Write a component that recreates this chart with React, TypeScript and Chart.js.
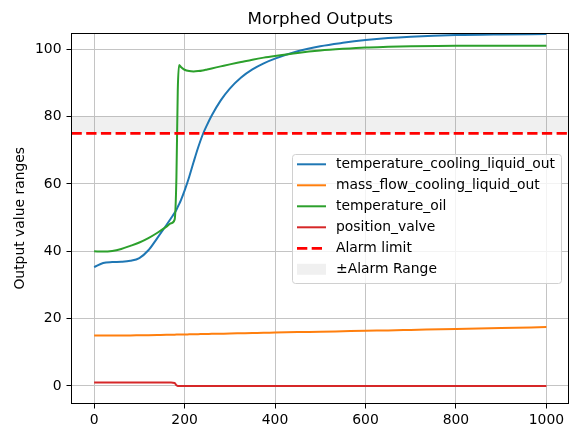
import React, { useEffect, useRef } from "react";
import { Chart, registerables } from "chart.js";

Chart.register(...registerables);

// ---- data ----
const TIME = [
  0, 20, 40, 60, 80, 100, 120, 140, 160, 170, 178, 182, 185, 188, 192, 200, 210, 220, 230, 240,
  250, 260, 280, 300, 325, 350, 375, 400, 450, 500, 550, 600, 650, 700, 800, 900, 1000,
];

const TEMP_COOLING_LIQUID_OUT = [
  35.3, 36.5, 36.8, 36.9, 37.2, 38.0, 40.3, 44.0, 47.8, 49.8, 51.4, 52.3, 53.2, 54.0, 55.2, 58.0, 62.0, 66.5, 70.8, 74.6,
  77.6, 80.3, 84.8, 88.3, 91.6, 94.0, 95.8, 97.2, 99.4, 100.9, 101.9, 102.7, 103.3, 103.7, 104.2, 104.4, 104.5,
];

const MASS_FLOW_COOLING_LIQUID_OUT = [
  15.0, 15.0, 15.0, 15.0, 15.0, 15.05, 15.1, 15.15, 15.2, 15.22, 15.25, 15.26, 15.27, 15.28, 15.29, 15.3, 15.33, 15.36, 15.39, 15.42,
  15.45, 15.48, 15.53, 15.58, 15.65, 15.72, 15.8, 15.85, 16.0, 16.1, 16.25, 16.4, 16.5, 16.65, 16.95, 17.2, 17.5,
];

const TEMPERATURE_OIL = [
  40.0, 39.9, 40.1, 40.7, 41.6, 42.6, 43.9, 45.5, 47.3, 48.3, 49.4, 62.0, 88.0, 95.3, 94.7, 93.9, 93.5, 93.4, 93.5, 93.7,
  94.0, 94.3, 94.9, 95.5, 96.2, 96.9, 97.5, 98.0, 98.9, 99.6, 100.1, 100.5, 100.7, 100.85, 101.0, 101.0, 101.0,
];

const POSITION_VALVE = [
  1.0, 1.0, 1.0, 1.0, 1.0, 1.0, 1.0, 1.0, 1.0, 1.0, 0.9, 0.2, 0.02, 0, 0, 0, 0, 0, 0, 0,
  0, 0, 0, 0, 0, 0, 0, 0, 0, 0, 0, 0, 0, 0, 0, 0, 0,
];

const SERIES_LABELS = [
  "temperature_cooling_liquid_out",
  "mass_flow_cooling_liquid_out",
  "temperature_oil",
  "position_valve",
];
const ALARM_LABEL = "Alarm limit";
const ALARM_RANGE_LABEL = "±Alarm Range";
const ALARM_LIMIT = 75;
const ALARM_RANGE_LOW = 75;
const ALARM_RANGE_HIGH = 80;

const X_LIMITS = [-50, 1050];
const Y_LIMITS = [-5.2, 104.8];
const X_TICKS = [0, 200, 400, 600, 800, 1000];
const Y_TICKS = [0, 20, 40, 60, 80, 100];

const TITLE = "Morphed Outputs";
const Y_LABEL = "Output value ranges";

// ---- styles ----
const FONT = "DejaVu Sans";
const GRID = "#c4c4c4";

const pts = (ys: number[]) => TIME.map((t, i) => ({ x: t, y: ys[i] }));

const framePlugin = {
  id: "mplFrame",
  afterDatasetsDraw(chart: any) {
    const { ctx, chartArea } = chart;
    const l = Math.floor(chartArea.left) + 0.5;
    const t = Math.floor(chartArea.top) + 0.5;
    const r = Math.floor(chartArea.right) - 0.5;
    const b = Math.floor(chartArea.bottom) + 0.5;
    ctx.save();
    ctx.strokeStyle = "#000";
    ctx.lineWidth = 1;
    ctx.setLineDash([]);
    ctx.strokeRect(l, t, r - l, b - t);
    ctx.restore();
  },
};

const legendPlugin = {
  id: "mplLegend",
  afterDraw(chart: any) {
    const { ctx } = chart;
    const bx = 292.5, by = 154.5, bw = 269, bh = 129, rad = 3;
    ctx.save();
    ctx.beginPath();
    ctx.moveTo(bx + rad, by);
    ctx.lineTo(bx + bw - rad, by);
    ctx.quadraticCurveTo(bx + bw, by, bx + bw, by + rad);
    ctx.lineTo(bx + bw, by + bh - rad);
    ctx.quadraticCurveTo(bx + bw, by + bh, bx + bw - rad, by + bh);
    ctx.lineTo(bx + rad, by + bh);
    ctx.quadraticCurveTo(bx, by + bh, bx, by + bh - rad);
    ctx.lineTo(bx, by + rad);
    ctx.quadraticCurveTo(bx, by, bx + rad, by);
    ctx.closePath();
    ctx.fillStyle = "rgba(255,255,255,0.8)";
    ctx.fill();
    ctx.strokeStyle = "#d0d0d0";
    ctx.lineWidth = 1;
    ctx.stroke();

    const datasets = chart.data.datasets;
    datasets.forEach((ds: any, i: number) => {
      const cy = 164.3 + i * 21;
      if (ds.fill) {
        ctx.fillStyle = ds.backgroundColor;
        ctx.fillRect(297, cy - 5.5, 29, 11);
      } else {
        ctx.beginPath();
        ctx.setLineDash(ds.borderDash || []);
        ctx.strokeStyle = ds.borderColor;
        ctx.lineWidth = ds.borderWidth;
        ctx.moveTo(297, cy);
        ctx.lineTo(326, cy);
        ctx.stroke();
        ctx.setLineDash([]);
      }
      ctx.fillStyle = "#000";
      ctx.font = `13.9px "${FONT}"`;
      ctx.textBaseline = "middle";
      ctx.textAlign = "left";
      ctx.fillText(ds.label, 336, cy);
    });
    ctx.restore();
  },
};

export default function App() {
  const ref = useRef<HTMLCanvasElement | null>(null);

  useEffect(() => {
    if (!ref.current) return;
    const lineBase = {
      pointRadius: 0,
      borderWidth: 2,
      cubicInterpolationMode: "monotone" as const,
      fill: false,
    };
    const chart = new Chart(ref.current, {
      type: "line",
      data: {
        datasets: [
          { ...lineBase, label: SERIES_LABELS[0], data: pts(TEMP_COOLING_LIQUID_OUT), borderColor: "#1f77b4", order: 4 },
          { ...lineBase, label: SERIES_LABELS[1], data: pts(MASS_FLOW_COOLING_LIQUID_OUT), borderColor: "#ff7f0e", order: 3 },
          { ...lineBase, label: SERIES_LABELS[2], data: pts(TEMPERATURE_OIL), borderColor: "#2ca02c", order: 2 },
          { ...lineBase, label: SERIES_LABELS[3], data: pts(POSITION_VALVE), borderColor: "#d62728", order: 1 },
          {
            label: ALARM_LABEL,
            data: X_LIMITS.map((x) => ({ x, y: ALARM_LIMIT })),
            borderColor: "#ff0000",
            borderWidth: 2.8,
            borderDash: [10.3, 4.4],
            pointRadius: 0,
            fill: false,
            order: 0,
          },
          {
            label: ALARM_RANGE_LABEL,
            data: X_LIMITS.map((x) => ({ x, y: ALARM_RANGE_HIGH })),
            borderColor: "rgba(0,0,0,0)",
            borderWidth: 0,
            backgroundColor: "rgba(128,128,128,0.12)",
            pointRadius: 0,
            fill: { value: ALARM_RANGE_LOW },
            order: 10,
          },
        ],
      },
      options: {
        animation: false,
        responsive: false,
        devicePixelRatio: 1,
        events: [],
        layout: { padding: { left: 0, right: 2, top: 0, bottom: 0 } },
        plugins: {
          legend: { display: false },
          tooltip: { enabled: false },
          title: {
            display: true,
            text: TITLE,
            fullSize: false,
            color: "#000",
            font: { family: FONT, size: 16.7, weight: "normal", lineHeight: 1.2 },
            padding: { top: 9.7, bottom: 3.3 },
          },
        },
        scales: {
          x: {
            type: "linear",
            min: X_LIMITS[0],
            max: X_LIMITS[1],
            afterBuildTicks: (s: any) => {
              s.ticks = X_TICKS.map((v) => ({ value: v }));
            },
            afterFit: (s: any) => {
              s.height = 23.5;
            },
            border: { display: false },
            grid: { color: GRID, lineWidth: 1, drawTicks: true, tickLength: 5, tickColor: "#000", tickWidth: 1 },
            ticks: {
              color: "#000",
              font: { family: FONT, size: 13.9 },
              padding: 4,
              maxRotation: 0,
              autoSkip: false,
              callback: (v: any) => String(v),
            },
          },
          y: {
            type: "linear",
            min: Y_LIMITS[0],
            max: Y_LIMITS[1],
            afterBuildTicks: (s: any) => {
              s.ticks = Y_TICKS.map((v) => ({ value: v }));
            },
            afterFit: (s: any) => {
              s.width = 71.5;
            },
            border: { display: false },
            grid: { color: GRID, lineWidth: 1, drawTicks: true, tickLength: 5, tickColor: "#000", tickWidth: 1 },
            title: {
              display: true,
              text: Y_LABEL,
              color: "#000",
              font: { family: FONT, size: 13.9, lineHeight: 1.2 },
              padding: { top: 12, bottom: 0 },
            },
            ticks: {
              color: "#000",
              font: { family: FONT, size: 13.9 },
              padding: 5,
              autoSkip: false,
              callback: (v: any) => String(v),
            },
          },
        },
      },
      plugins: [framePlugin, legendPlugin],
    } as any);
    return () => chart.destroy();
  }, []);

  return (
    <div style={{ position: "absolute", left: 0, top: 0, width: 571, height: 427, background: "#fff" }}>
      <canvas ref={ref} width={571} height={427} style={{ display: "block" }} />
    </div>
  );
}
